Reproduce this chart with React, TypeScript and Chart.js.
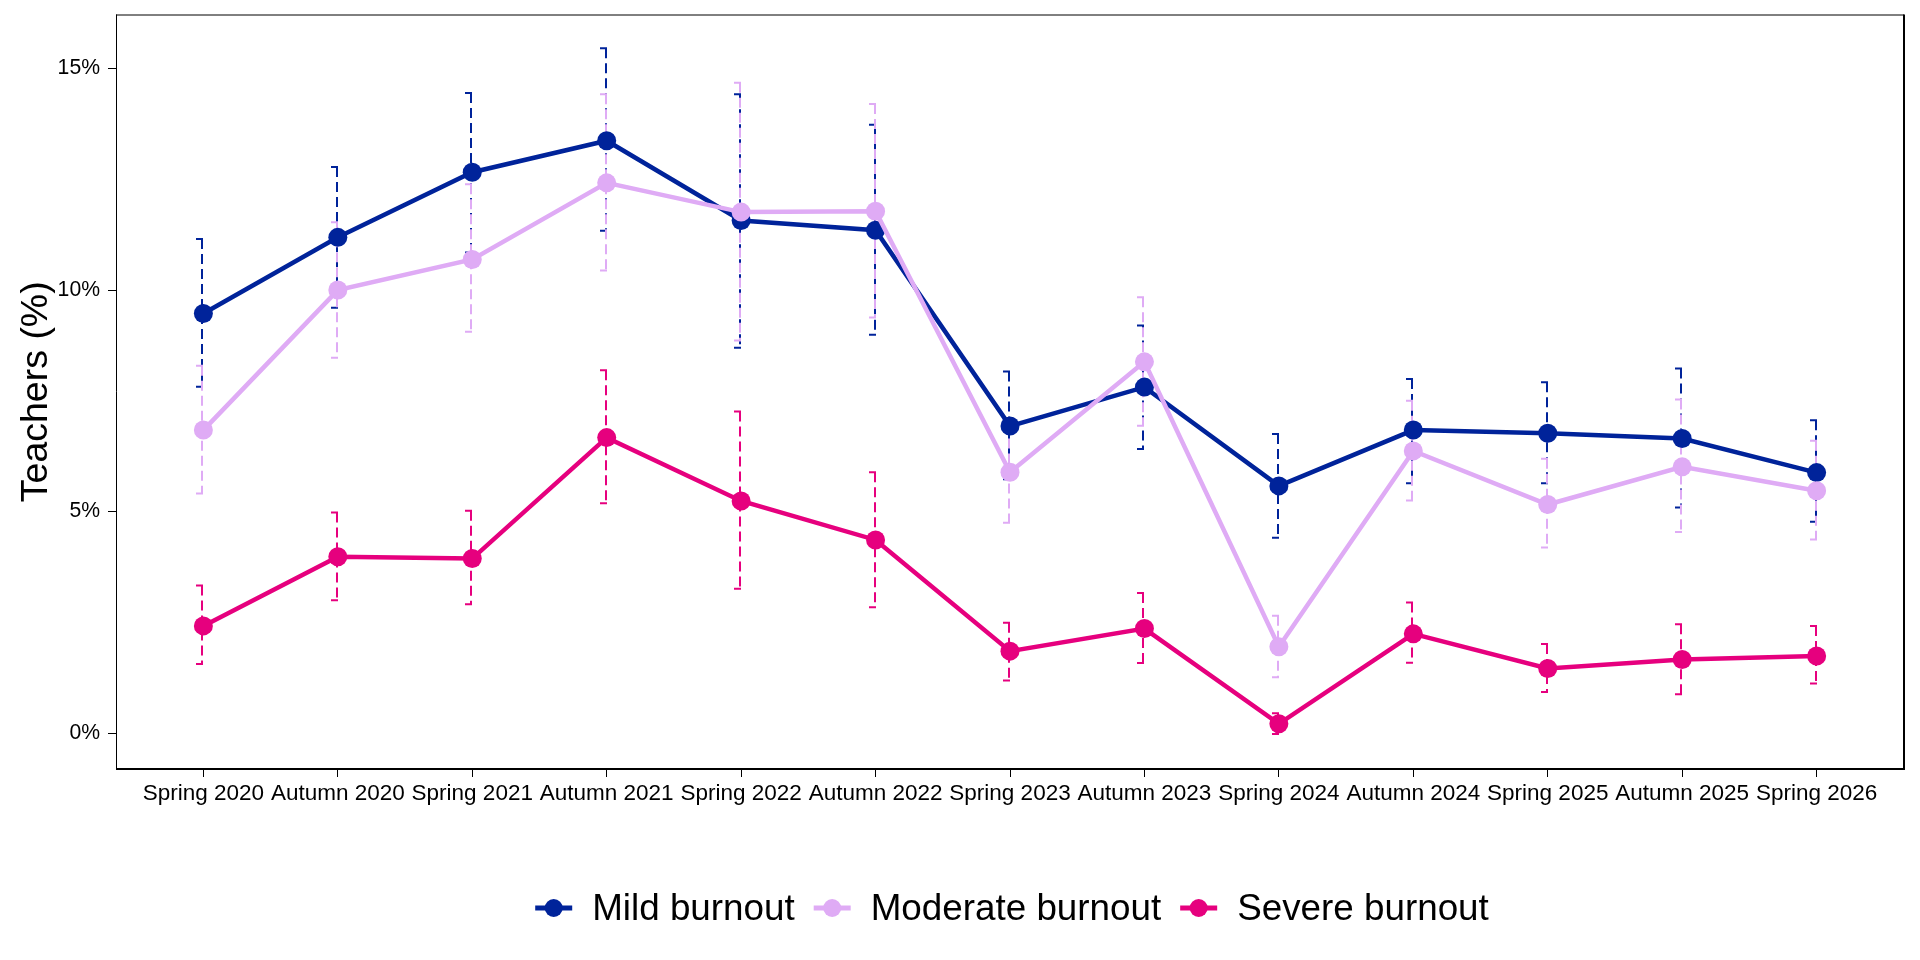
import { useEffect, useRef } from "react";
import { Chart, registerables } from "chart.js";
import type { Plugin } from "chart.js";
Chart.register(...registerables);

const FONT = "'Liberation Sans', Arial, Helvetica, sans-serif";

const waves = [
  "Spring 2020", "Autumn 2020", "Spring 2021", "Autumn 2021", "Spring 2022",
  "Autumn 2022", "Spring 2023", "Autumn 2023", "Spring 2024", "Autumn 2024",
  "Spring 2025", "Autumn 2025", "Spring 2026",
];

const mild = [9.47, 11.19, 12.66, 13.37, 11.57, 11.35, 6.93, 7.81, 5.58, 6.84, 6.77, 6.65, 5.88];
const mildLow = [7.82, 9.6, 10.85, 11.34, 8.7, 8.99, 5.73, 6.41, 4.41, 5.64, 5.64, 5.09, 4.77];
const mildHigh = [11.15, 12.78, 14.45, 15.46, 14.42, 13.73, 8.16, 9.2, 6.75, 7.99, 7.92, 8.23, 7.06];

const moderate = [6.84, 10.0, 10.69, 12.42, 11.76, 11.78, 5.89, 8.38, 1.95, 6.37, 5.16, 6.01, 5.47];
const moderateLow = [5.41, 8.47, 9.06, 10.44, 8.86, 9.38, 4.75, 6.94, 1.26, 5.25, 4.19, 4.54, 4.37];
const moderateHigh = [8.29, 11.53, 12.39, 14.42, 14.68, 14.2, 6.99, 9.84, 2.65, 7.5, 6.19, 7.53, 6.6];

const severe = [2.42, 3.98, 3.94, 6.67, 5.24, 4.36, 1.85, 2.36, 0.21, 2.24, 1.46, 1.66, 1.74];
const severeLow = [1.56, 3.0, 2.91, 5.19, 3.26, 2.84, 1.19, 1.58, -0.02, 1.59, 0.93, 0.88, 1.12];
const severeHigh = [3.33, 4.98, 5.02, 8.19, 7.26, 5.89, 2.49, 3.16, 0.45, 2.95, 2.01, 2.46, 2.42];

const yTicks = [0, 5, 10, 15];

const seriesNames = ["Mild burnout", "Moderate burnout", "Severe burnout"];
const seriesColors = ["#00239A", "#DFABF5", "#E6007E"];
const seriesValues = [mild, moderate, severe];
const seriesLow = [mildLow, moderateLow, severeLow];
const seriesHigh = [mildHigh, moderateHigh, severeHigh];

// dashed error bars with short caps on the left side
const errorBars: Plugin<"line"> = {
  id: "errorBars",
  beforeDatasetsDraw(chart) {
    const { ctx } = chart;
    const xs = chart.scales.x;
    const ys = chart.scales.y;
    ctx.save();
    ctx.lineWidth = 2;
    seriesLow.forEach((lows, s) => {
      ctx.strokeStyle = seriesColors[s];
      lows.forEach((lo, i) => {
        const px = Math.round(xs.getPixelForValue(i)) - 1;
        const top = ys.getPixelForValue(seriesHigh[s][i]);
        const bot = ys.getPixelForValue(lo);
        ctx.setLineDash([10, 5]);
        ctx.beginPath();
        ctx.moveTo(px, top);
        ctx.lineTo(px, bot);
        ctx.stroke();
        ctx.setLineDash([]);
        ctx.beginPath();
        ctx.moveTo(px - 6, top);
        ctx.lineTo(px + 1, top);
        ctx.moveTo(px - 6, bot);
        ctx.lineTo(px + 1, bot);
        ctx.stroke();
      });
    });
    ctx.restore();
  },
};

const panelBox: Plugin<"line"> = {
  id: "panelBox",
  afterDraw(chart) {
    const { ctx, chartArea } = chart;
    const { left, top, right, bottom } = chartArea;
    ctx.save();
    ctx.strokeStyle = "#000";
    ctx.lineWidth = 1;
    ctx.beginPath();
    ctx.moveTo(left, top + 0.5);
    ctx.lineTo(right, top + 0.5);
    ctx.moveTo(left + 0.5, top);
    ctx.lineTo(left + 0.5, bottom);
    ctx.stroke();
    ctx.lineWidth = 2;
    ctx.beginPath();
    ctx.moveTo(left, bottom);
    ctx.lineTo(right + 1, bottom);
    ctx.moveTo(right, top);
    ctx.lineTo(right, bottom);
    ctx.stroke();
    ctx.restore();
  },
};

const bottomLegend: Plugin<"line"> = {
  id: "bottomLegend",
  afterDraw(chart) {
    const { ctx } = chart;
    const cy = 908;
    const markW = 37;
    const gapText = 20;
    const gapItem = 19;
    ctx.save();
    ctx.font = `36.8px ${FONT}`;
    ctx.textBaseline = "middle";
    const widths = seriesNames.map((n) => ctx.measureText(n).width);
    const total =
      widths.reduce((a, w) => a + markW + gapText + w, 0) + gapItem * (seriesNames.length - 1);
    let x = 1012 - total / 2;
    seriesNames.forEach((name, s) => {
      ctx.strokeStyle = seriesColors[s];
      ctx.fillStyle = seriesColors[s];
      ctx.lineWidth = 5;
      ctx.beginPath();
      ctx.moveTo(x, cy);
      ctx.lineTo(x + markW, cy);
      ctx.stroke();
      ctx.beginPath();
      ctx.arc(x + markW / 2, cy, 9, 0, Math.PI * 2);
      ctx.fill();
      x += markW + gapText;
      ctx.fillStyle = "#000";
      ctx.fillText(name, x, cy + 2);
      x += widths[s] + gapItem;
    });
    ctx.restore();
  },
};

export default function App() {
  const canvasRef = useRef<HTMLCanvasElement>(null);
  const chartRef = useRef<Chart<"line"> | null>(null);

  useEffect(() => {
    document.body.style.margin = "0";
    if (!canvasRef.current) return;
    if (chartRef.current) chartRef.current.destroy();

    chartRef.current = new Chart(canvasRef.current, {
      type: "line",
      data: {
        datasets: seriesNames.map((name, s) => ({
          label: name,
          data: seriesValues[s].map((v, i) => ({ x: i, y: v })),
          borderColor: seriesColors[s],
          backgroundColor: seriesColors[s],
          pointBackgroundColor: seriesColors[s],
          pointBorderWidth: 0,
          pointRadius: 9.5,
          borderWidth: 4.5,
          tension: 0,
          order: 3 - s,
        })),
      },
      options: {
        responsive: false,
        animation: false,
        devicePixelRatio: 1,
        layout: { padding: { left: 0, top: 14.5, right: 16, bottom: 131 } },
        plugins: {
          legend: { display: false },
          tooltip: { enabled: false },
        },
        scales: {
          x: {
            type: "linear",
            min: -0.65,
            max: 12.65,
            afterBuildTicks: (scale) => {
              scale.ticks = waves.map((_, i) => ({ value: i }));
            },
            afterFit: (scale) => {
              scale.height = 60;
              scale.paddingLeft = 0;
              scale.paddingRight = 0;
            },
            ticks: {
              autoSkip: false,
              maxRotation: 0,
              padding: 3,
              color: "#000",
              font: { family: FONT, size: 22.5 },
              callback: (v) => waves[Number(v)] ?? "",
            },
            grid: {
              display: true,
              drawOnChartArea: false,
              drawTicks: true,
              tickLength: 8,
              tickColor: "#000",
              tickWidth: 1,
            },
            border: { display: false },
          },
          y: {
            type: "linear",
            min: -0.81,
            max: 16.22,
            afterBuildTicks: (scale) => {
              scale.ticks = yTicks.map((v) => ({ value: v }));
            },
            afterFit: (scale) => {
              scale.width = 116;
              scale.paddingTop = 0;
              scale.paddingBottom = 0;
            },
            ticks: {
              padding: 8,
              color: "#000",
              font: { family: FONT, size: 21.2 },
              callback: (v) => `${v}%`,
            },
            grid: {
              display: true,
              drawOnChartArea: false,
              drawTicks: true,
              tickLength: 8,
              tickColor: "#000",
              tickWidth: 1,
            },
            border: { display: false },
            title: {
              display: true,
              text: "Teachers (%)",
              color: "#000",
              font: { family: FONT, size: 37.5 },
              padding: { top: 14.5, bottom: 0 },
            },
          },
        },
      },
      plugins: [errorBars, panelBox, bottomLegend],
    });

    return () => {
      chartRef.current?.destroy();
      chartRef.current = null;
    };
  }, []);

  return (
    <div style={{ width: 1920, height: 960, background: "#fff" }}>
      <canvas ref={canvasRef} width={1920} height={960}></canvas>
    </div>
  );
}
